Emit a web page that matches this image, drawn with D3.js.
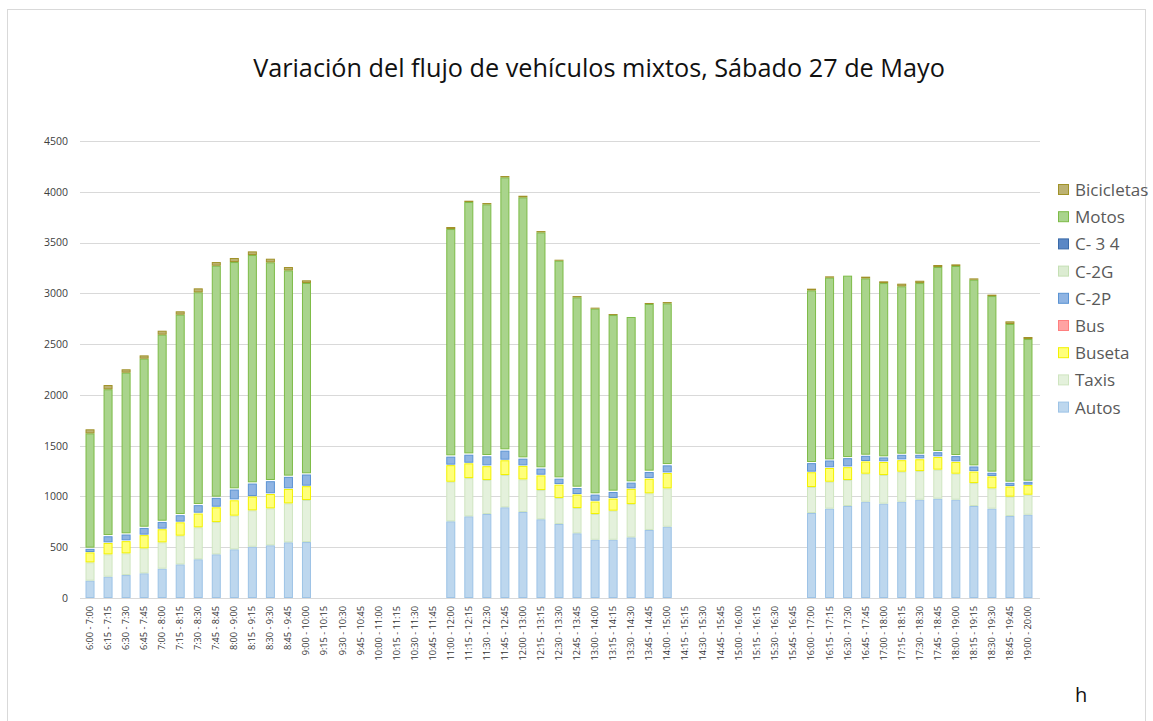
<!DOCTYPE html>
<html>
<head>
<meta charset="utf-8">
<script src="https://cdn.jsdelivr.net/npm/d3@7/dist/d3.min.js"></script>
<style>
  body { margin: 0; background: #fff; }
  svg { display: block; }
  text { font-family: "Open Sans", "Liberation Sans", sans-serif; }
</style>
</head>
<body>
<svg id="chart" width="1153" height="721"></svg>
<script>
// ---------------- DATA ----------------
const categories = [
  "6:00 - 7:00","6:15 - 7:15","6:30 - 7:30","6:45 - 7:45","7:00 - 8:00","7:15 - 8:15","7:30 - 8:30","7:45 - 8:45",
  "8:00 - 9:00","8:15 - 9:15","8:30 - 9:30","8:45 - 9:45","9:00 - 10:00","9:15 - 10:15","9:30 - 10:30","9:45 - 10:45",
  "10:00 - 11:00","10:15 - 11:15","10:30 - 11:30","10:45 - 11:45","11:00 - 12:00","11:15 - 12:15","11:30 - 12:30","11:45 - 12:45",
  "12:00 - 13:00","12:15 - 13:15","12:30 - 13:30","12:45 - 13:45","13:00 - 14:00","13:15 - 14:15","13:30 - 14:30","13:45 - 14:45",
  "14:00 - 15:00","14:15 - 15:15","14:30 - 15:30","14:45 - 15:45","15:00 - 16:00","15:15 - 16:15","15:30 - 16:30","15:45 - 16:45",
  "16:00 - 17:00","16:15 - 17:15","16:30 - 17:30","16:45 - 17:45","17:00 - 18:00","17:15 - 18:15","17:30 - 18:30","17:45 - 18:45",
  "18:00 - 19:00","18:15 - 19:15","18:30 - 19:30","18:45 - 19:45","19:00 - 20:00"
];
const _ = null;
const autos = [171,210,226,243,289,331,381,430,479,505,519,548,551, _,_,_,_,_,_,_,
  755,804,827,893,847,775,729,637,574,574,597,670,702, _,_,_,_,_,_,_,
  837,880,906,948,929,948,968,978,968,906,880,807,820];
const taxis = [180,220,214,246,259,283,315,318,332,358,364,384,414, _,_,_,_,_,_,_,
  390,377,335,318,321,288,256,249,253,286,328,361,378, _,_,_,_,_,_,_,
  256,265,256,276,282,296,282,286,256,226,200,191,197];
const buseta = [98,112,120,130,129,131,136,145,151,136,141,142,136, _,_,_,_,_,_,_,
  163,145,136,145,133,144,131,133,123,119,150,143,151, _,_,_,_,_,_,_,
  145,135,126,120,128,113,116,124,116,113,117,100,95];
const bus = [4,6,8,5,6,7,8,6,9,5,7,6,5, _,_,_,_,_,_,_,
  5,6,8,6,5,7,6,5,8,6,5,7,6, _,_,_,_,_,_,_,
  6,7,8,5,7,8,9,7,6,5,4,5,4];
const c2p = [31,60,57,66,66,63,74,87,97,123,119,113,110, _,_,_,_,_,_,_,
  79,79,89,89,66,60,53,59,60,59,56,60,69, _,_,_,_,_,_,_,
  84,67,81,51,38,45,35,41,51,45,32,31,28];
const c2g = [5,5,5,5,5,5,5,5,5,5,5,5,5, _,_,_,_,_,_,_,
  5,5,5,5,5,5,5,5,5,5,5,5,5, _,_,_,_,_,_,_,
  5,5,5,5,5,5,5,5,5,5,5,5,5];
const c34 = [7,7,7,7,7,7,7,7,7,7,7,7,7, _,_,_,_,_,_,_,
  8,8,8,8,8,8,8,8,8,8,8,8,8, _,_,_,_,_,_,_,
  6,6,6,6,6,6,6,6,6,6,6,6,6];
const motos = [1125,1435,1582,1655,1832,1963,2084,2274,2228,2238,2143,2021,1874, _,_,_,_,_,_,_,
  2228,2475,2468,2678,2560,2313,2133,1864,1818,1729,1618,1641,1582, _,_,_,_,_,_,_,
  1690,1789,1786,1736,1706,1648,1680,1812,1861,1828,1729,1553,1395];
const bicicletas = [40,42,33,32,39,33,39,36,40,36,36,33,26, _,_,_,_,_,_,_,
  20,13,13,13,16,13,10,13,10,10,9,10,13, _,_,_,_,_,_,_,
  17,13,9,17,17,26,23,20,16,13,14,26,20];
const yTicks = [0,500,1000,1500,2000,2500,3000,3500,4000,4500];

const seriesNames = ["Autos","Taxis","Buseta","Bus","C-2P","C-2G","C- 3 4","Motos","Bicicletas"];
const seriesValues = [autos, taxis, buseta, bus, c2p, c2g, c34, motos, bicicletas];
const fills   = ["#bdd7ee","#e4f1dc","#ffff7a","#ffa3a3","#8fb4e3","#dcecd2","#5a87c5","#a9d48c","#bcb272"];
const strokes = ["#9dc3e6","#cfe5c0","#f2f200","#ff7f7f","#5b93d3","#c5e0b4","#3a6aa8","#7dbb47","#a09228"];

const title = "Variación del flujo de vehículos mixtos, Sábado 27 de Mayo";
const xUnit = "h";

// ---------------- CHART ----------------
const svg = d3.select("#chart");

svg.append("rect").attr("x", 7.5).attr("y", 9.5).attr("width", 1138).attr("height", 730)
  .attr("fill", "#fff").attr("stroke", "#d9d9d9").attr("stroke-width", 1);

const rows = categories.map((c, i) => {
  const r = { cat: c };
  seriesNames.forEach((s, k) => r[s] = seriesValues[k][i] == null ? 0 : seriesValues[k][i]);
  return r;
});

const x = d3.scaleBand().domain(categories).range([81, 1037]).paddingInner(0.5).paddingOuter(0.25);
const y = d3.scaleLinear().domain([0, 4500]).range([598, 141]);

// gridlines
svg.append("g").selectAll("line").data(yTicks).join("line")
  .attr("x1", 80).attr("x2", 1040)
  .attr("y1", d => Math.round(y(d)) + 0.5).attr("y2", d => Math.round(y(d)) + 0.5)
  .attr("stroke", "#d9d9d9").attr("stroke-width", 1);

// y axis labels
const yAxis = d3.axisLeft(y).tickValues(yTicks).tickSize(0).tickPadding(0).tickFormat(d3.format("d"));
const gy = svg.append("g").attr("transform", "translate(68,0)").call(yAxis);
gy.select(".domain").remove();
gy.selectAll("text").attr("font-family", "'Open Sans', sans-serif").attr("font-size", "10.5px").attr("fill", "#404040");

// x axis labels
const xAxis = d3.axisBottom(x).tickSize(0).tickPadding(0);
const gx = svg.append("g").attr("transform", "translate(0,598)").call(xAxis);
gx.select(".domain").remove();
gx.selectAll("text")
  .attr("font-family", "'Open Sans', sans-serif").attr("font-size", "9.2px").attr("fill", "#333")
  .attr("transform", "rotate(-90)")
  .attr("text-anchor", "end")
  .attr("x", -8).attr("y", 0).attr("dy", "0.32em");

// bars
const stack = d3.stack().keys(seriesNames);
const layers = stack(rows);
const gBars = svg.append("g");
layers.forEach((layer, k) => {
  gBars.append("g").selectAll("rect")
    .data(layer.filter(d => d[1] - d[0] > 0))
    .join("rect")
    .attr("x", d => x(d.data.cat) + 0.5)
    .attr("width", x.bandwidth() - 1)
    .attr("y", d => y(d[1]) + 0.5)
    .attr("height", d => Math.max(0, y(d[0]) - y(d[1]) - 1))
    .attr("fill", fills[k])
    .attr("stroke", strokes[k])
    .attr("stroke-width", 1);
});

// title
const t = svg.append("text").attr("x", 599).attr("y", 77).attr("text-anchor", "middle")
  .attr("font-size", "24px").attr("fill", "#111").text(title);
const tw = t.node().getComputedTextLength();
t.attr("font-size", (24 * 692 / tw).toFixed(2) + "px");

// legend (top to bottom reversed order)
const legendOrder = seriesNames.map((s, k) => k).reverse();
const lg = svg.append("g");
legendOrder.forEach((k, j) => {
  const cy = 190 + j * 27.2;
  lg.append("rect").attr("x", 1058.5).attr("y", cy - 5.5).attr("width", 10).attr("height", 10)
    .attr("fill", fills[k]).attr("stroke", strokes[k]);
  lg.append("text").attr("x", 1075).attr("y", cy).attr("dy", "0.35em")
    .attr("font-size", "17px").attr("fill", "#595959").text(seriesNames[k]);
});

// x unit
svg.append("text").attr("x", 1075).attr("y", 702).attr("font-size", "20px").attr("fill", "#111").text(xUnit);
</script>
</body>
</html>
